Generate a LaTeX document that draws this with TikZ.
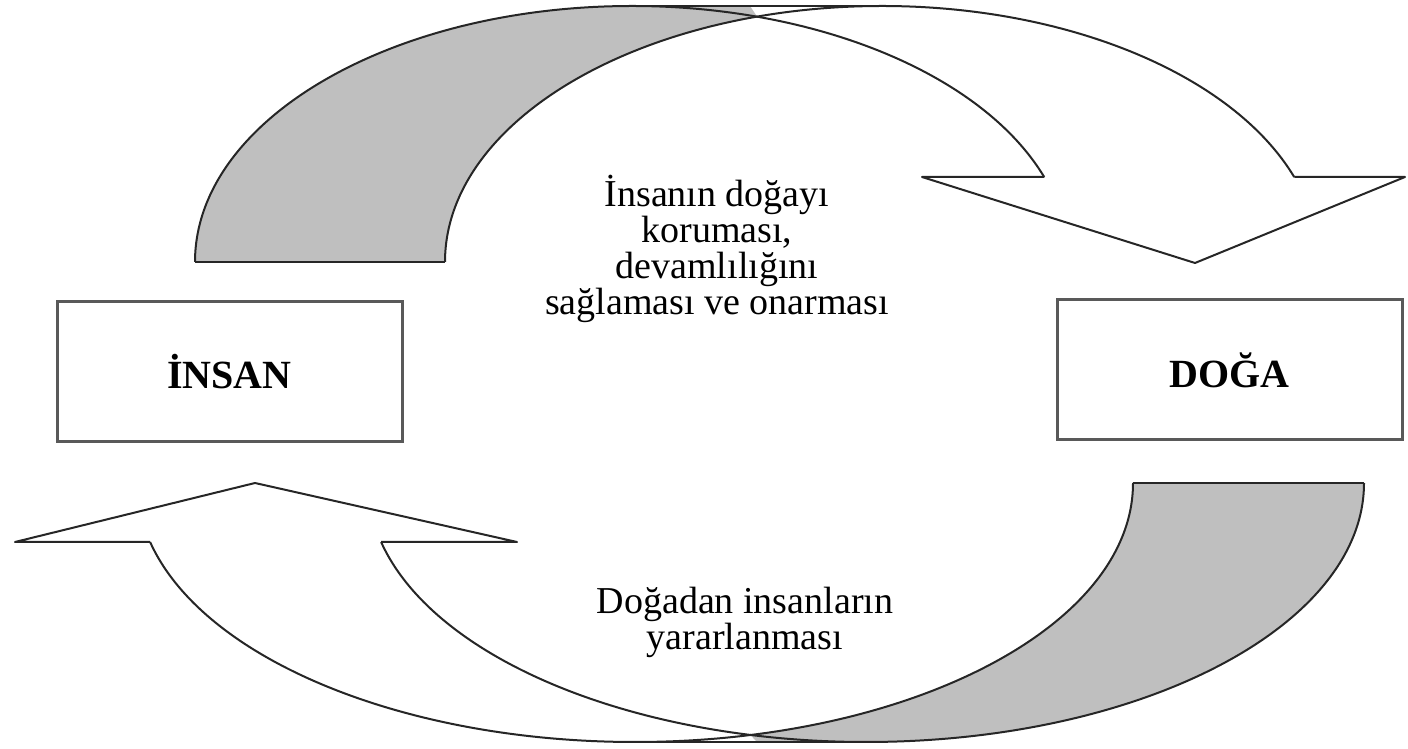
\documentclass[tikz,border=0pt]{standalone}
\usepackage{fontspec}
\setmainfont{Liberation Serif}
\usepackage{tikz}
\usetikzlibrary{positioning}

\tikzset{
  box/.style={draw=black!65, line width=1.5pt, minimum width=172.5pt, minimum height=70pt,
    inner sep=0pt, font=\fontsize{20}{24}\selectfont\bfseries},
  band/.style={draw=black!85, line width=1pt, line join=round},
  midtext/.style={align=center, font=\fontsize{19}{18}\selectfont}
}

\begin{document}
\begin{tikzpicture}[x=0.5pt, y=0.5pt]
    \useasboundingbox (0,0) rectangle (1408,749);

    % gray back part of the upper arrow
    \fill[gray!50] (195,487) arc[start angle=180, end angle=90, x radius=218.5pt, y radius=128pt]
      -- (750,743) -- (757.2,732.3)
      arc[start angle=106.6, end angle=180, x radius=218.5pt, y radius=128pt] -- cycle;

    % gray back part of the lower arrow
    \fill[gray!50] (1364,266) arc[start angle=0, end angle=-90, x radius=249pt, y radius=129.5pt]
      -- (757,7) -- (750.4,14)
      arc[start angle=-76.6, end angle=0, x radius=249pt, y radius=129.5pt] -- cycle;

    % upper arrow outline
    \draw[band] (195,487) arc[start angle=180, end angle=19.39, x radius=218.5pt, y radius=128pt];
    \draw[band] (445,487) arc[start angle=180, end angle=19.39, x radius=218.5pt, y radius=128pt];
    \draw[band] (632,743) -- (882,743);
    \draw[band] (195,487) -- (445,487);
    \draw[band] (1044.3,572) -- (922,572) -- (1195,486) -- (1405,572) -- (1294.3,572);

    % lower arrow outline
    \draw[band] (1364,266) arc[start angle=0, end angle=-166.83, x radius=249pt, y radius=129.5pt];
    \draw[band] (1133,266) arc[start angle=0, end angle=-166.83, x radius=249pt, y radius=129.5pt];
    \draw[band] (635,7) -- (866,7);
    \draw[band] (1133,266) -- (1364,266);
    \draw[band] (381.1,207) -- (517,207) -- (255,266) -- (15,207) -- (150.1,207);

    % the two boxes
    \node[box] (human) at (229.5,377) {İNSAN};
    \node[box] (nature) at (1229.5,379) {DOĞA};

    % the texts in the middle
    \node[midtext] (protect) at (717,500) {İnsanın doğayı\\koruması,\\devamlılığını\\sağlaması ve onarması};
    \node[midtext] (benefit) at (745,127) {Doğadan insanların\\yararlanması};

\end{tikzpicture}
\end{document}
